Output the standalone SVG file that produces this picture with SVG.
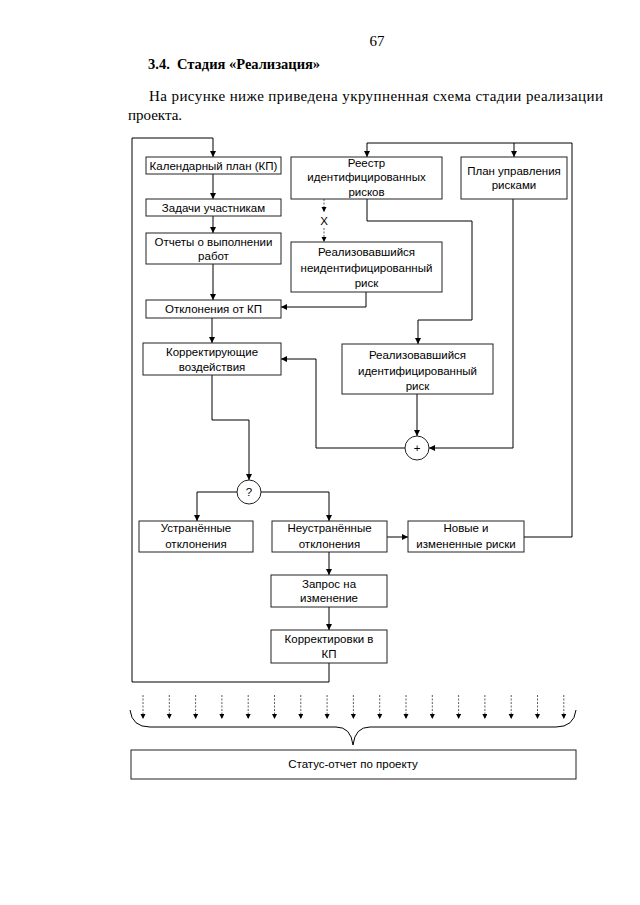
<svg xmlns="http://www.w3.org/2000/svg" width="640" height="905" viewBox="0 0 640 905">
<defs>
<marker id="ah" markerUnits="userSpaceOnUse" markerWidth="7" markerHeight="7" refX="6" refY="3" orient="auto">
<path d="M0,0 L6,3 L0,6 z" fill="#000"/>
</marker>
<marker id="ahs" markerUnits="userSpaceOnUse" markerWidth="6" markerHeight="6" refX="5" refY="2.5" orient="auto">
<path d="M0,0 L5,2.5 L0,5 z" fill="#000"/>
</marker>
<style>
.box{fill:#fff;stroke:#222;stroke-width:1}
.t{font-family:"Liberation Sans",Arial,sans-serif;font-size:11.5px;fill:#000;text-anchor:middle}
.c{fill:none;stroke:#000;stroke-width:1}
.a{marker-end:url(#ah)}
.d{fill:none;stroke:#333;stroke-width:0.8;stroke-dasharray:2,1.5;marker-end:url(#ahs)}
.hdr{font-family:"Liberation Serif","Times New Roman",serif;fill:#000}
</style>
</defs>
<rect width="640" height="905" fill="#fff"/>
<g id="header">
<text class="hdr" x="377" y="46" font-size="15" text-anchor="middle">67</text>
<text class="hdr" x="148" y="69" font-size="14.5" font-weight="bold" xml:space="preserve">3.4.  Стадия «Реализация»</text>
<text class="hdr" x="149" y="101" font-size="15" textLength="454" lengthAdjust="spacing">На рисунке ниже приведена укрупненная схема стадии реализации</text>
<text class="hdr" x="128" y="120" font-size="15">проекта.</text>
</g>
<g id="connectors">
<path class="c a" d="M329,663 V682 H132 V138 H213 V157"/>
<path class="c a" d="M213,174 V199"/>
<path class="c a" d="M213,216 V233"/>
<path class="c a" d="M213,264 V300"/>
<path class="c a" d="M212,318 V343"/>
<path class="c a" d="M212,375 V420 H249 V480"/>
<path class="c a" d="M237,492 H197 V521"/>
<path class="c a" d="M261,492 H329 V521"/>
<path class="c a" d="M387,537 H408"/>
<path class="c a" d="M524,537 H572 V143 H367 V157"/>
<path class="c a" d="M514,143 V157"/>
<path class="d" d="M324,199 V212"/>
<path class="d" d="M324,228 V242"/>
<text class="t" x="324" y="225" font-size="11">X</text>
<path class="c a" d="M366,292 V307 H281"/>
<path class="c a" d="M367,199 V221 H472 V320 H418 V344"/>
<path class="c a" d="M417,394 V436"/>
<path class="c a" d="M405,448 H316 V359 H281"/>
<path class="c a" d="M513,199 V448 H429"/>
<path class="c a" d="M329,552 V575"/>
<path class="c a" d="M329,607 V630"/>
<g id="status-arrows">
<path class="d" d="M143,695 V719"/>
<path class="d" d="M169.3,695 V719"/>
<path class="d" d="M195.6,695 V719"/>
<path class="d" d="M221.9,695 V719"/>
<path class="d" d="M248.2,695 V719"/>
<path class="d" d="M274.5,695 V719"/>
<path class="d" d="M300.8,695 V719"/>
<path class="d" d="M327.1,695 V719"/>
<path class="d" d="M353.4,695 V719"/>
<path class="d" d="M379.7,695 V719"/>
<path class="d" d="M406,695 V719"/>
<path class="d" d="M432.3,695 V719"/>
<path class="d" d="M458.6,695 V719"/>
<path class="d" d="M484.9,695 V719"/>
<path class="d" d="M511.2,695 V719"/>
<path class="d" d="M537.5,695 V719"/>
<path class="d" d="M563.8,695 V719"/>
</g>
<path class="c" d="M130,710 Q132,727 150,727 H336 Q351,727 353,745 Q355,727 370,727 H556 Q574,727 576,710"/>
</g>
<g id="n-kp"><rect class="box" x="146" y="157" width="135" height="17"/><text class="t" x="213.5" y="169.5">Календарный план (КП)</text></g>
<g id="n-tasks"><rect class="box" x="146" y="199" width="135" height="17"/><text class="t" x="213.5" y="211.5">Задачи участникам</text></g>
<g id="n-reports"><rect class="box" x="146" y="233" width="135" height="31"/><text class="t" x="213.5" y="246">Отчеты о выполнении</text><text class="t" x="213.5" y="260">работ</text></g>
<g id="n-dev"><rect class="box" x="146" y="300" width="135" height="18"/><text class="t" x="213.5" y="313">Отклонения от КП</text></g>
<g id="n-corr"><rect class="box" x="143" y="343" width="138" height="32"/><text class="t" x="212" y="356">Корректирующие</text><text class="t" x="212" y="371">воздействия</text></g>
<g id="n-registry"><rect class="box" x="291" y="157" width="151" height="42"/><text class="t" x="366.5" y="167">Реестр</text><text class="t" x="366.5" y="181">идентифицированных</text><text class="t" x="366.5" y="196">рисков</text></g>
<g id="n-plan"><rect class="box" x="461" y="157" width="106" height="42"/><text class="t" x="514" y="175">План управления</text><text class="t" x="514" y="189">рисками</text></g>
<g id="n-unident"><rect class="box" x="291" y="242" width="151" height="50"/><text class="t" x="366.5" y="256">Реализовавшийся</text><text class="t" x="366.5" y="272">неидентифицированный</text><text class="t" x="366.5" y="287">риск</text></g>
<g id="n-ident"><rect class="box" x="342" y="344" width="151" height="50"/><text class="t" x="417.5" y="359">Реализовавшийся</text><text class="t" x="417.5" y="375">идентифицированный</text><text class="t" x="417.5" y="390">риск</text></g>
<g id="n-plus"><circle class="box" cx="417" cy="448" r="12"/><text class="t" x="417" y="452" font-size="10">+</text></g>
<g id="n-q"><circle class="box" cx="249" cy="492" r="12"/><text class="t" x="249" y="496" font-size="11">?</text></g>
<g id="n-fixed"><rect class="box" x="139" y="521" width="114" height="31"/><text class="t" x="196" y="532">Устранённые</text><text class="t" x="196" y="548">отклонения</text></g>
<g id="n-unfixed"><rect class="box" x="272" y="521" width="115" height="31"/><text class="t" x="329.5" y="532">Неустранённые</text><text class="t" x="329.5" y="548">отклонения</text></g>
<g id="n-newrisks"><rect class="box" x="408" y="521" width="116" height="31"/><text class="t" x="466" y="532">Новые и</text><text class="t" x="466" y="548">измененные риски</text></g>
<g id="n-request"><rect class="box" x="271" y="575" width="116" height="32"/><text class="t" x="329" y="588">Запрос на</text><text class="t" x="329" y="602">изменение</text></g>
<g id="n-adjust"><rect class="box" x="271" y="630" width="116" height="33"/><text class="t" x="329" y="643">Корректировки в</text><text class="t" x="329" y="658">КП</text></g>
<g id="n-status"><rect class="box" x="131" y="750" width="445" height="29"/><text class="t" x="353" y="768">Статус-отчет по проекту</text></g>
</svg>
